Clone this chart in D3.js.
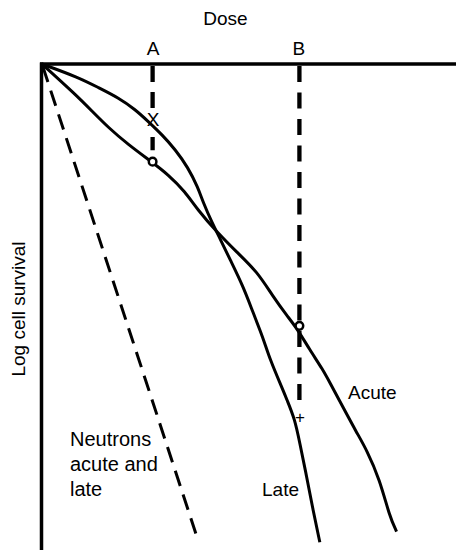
<!DOCTYPE html>
<html>
<head>
<meta charset="utf-8">
<script src="https://cdn.jsdelivr.net/npm/d3@7"></script>
<style>
body { margin: 0; background: white; }
text { font-family: "Liberation Sans", Arial, Helvetica, sans-serif; fill: black; }
.curve { fill: none; stroke: black; stroke-width: 3; }
</style>
</head>
<body>
<div id="chart"></div>
<script>

// dose (arbitrary units) vs log cell survival
var doseA = 3, doseB = 7;

var lateCurve = [
 [0,0],[0.99,-0.36],[1.54,-0.64],[2.08,-0.91],[2.54,-1.23],[2.89,-1.55],[3.27,-1.91],
 [3.63,-2.31],[3.98,-2.80],[4.25,-3.34],[4.39,-3.74],[4.63,-4.28],[4.86,-4.74],[5.12,-5.28],
 [5.48,-6.01],[5.75,-6.72],[6.02,-7.39],[6.21,-7.99],[6.56,-8.80],[6.67,-9.07],[6.89,-9.61],
 [7.02,-10.23],[7.21,-11.15],[7.38,-12.04],[7.57,-12.93]
];

var acuteCurve = [
 [0,0],[0.91,-0.82],[1.37,-1.28],[1.81,-1.72],[2.35,-2.18],[2.98,-2.64],[3.44,-2.99],
 [3.90,-3.45],[4.23,-3.93],[4.77,-4.55],[5.31,-5.09],[5.86,-5.61],[6.29,-6.28],[6.67,-6.80],
 [6.97,-7.18],[7.29,-7.72],[7.65,-8.26],[7.84,-8.61],[8.19,-9.26],[8.57,-9.96],[8.84,-10.42],
 [9.20,-11.23],[9.47,-12.23],[9.66,-12.64]
];

var neutronLine = [[0,0],[4.22,-12.78]];

// survival read at doses A and B
var acuteMarks = [[doseA,-2.64],[doseB,-7.08]];
var lateMarks = [{d:doseA, s:-1.5, t:"X"}, {d:doseB, s:-9.55, t:"+"}];
var guideEnds = [{d:doseA, s:-2.33, dash:"16,10,16,29,20"}, {d:doseB, s:-9.1, dash:"16,10.5"}];

var W = 456, H = 550;
var svg = d3.select("#chart").append("svg").attr("width", W).attr("height", H);

var x = d3.scaleLinear().domain([0, 11.28]).range([42, 456]);
var y = d3.scaleLinear().domain([0, -13.14]).range([64, 550]);

var line = d3.line().x(d=>x(d[0])).y(d=>y(d[1])).curve(d3.curveBasis);

// axes (top = dose, left = log survival)
svg.append("line").attr("x1", x(0)-2).attr("x2", W).attr("y1", y(0)).attr("y2", y(0))
	.attr("stroke","black").attr("stroke-width",3.5);
svg.append("line").attr("x1", x(0)-0.5).attr("x2", x(0)-0.5).attr("y1", y(0)-1.5).attr("y2", H)
	.attr("stroke","black").attr("stroke-width",3.5);

svg.append("text").attr("x",225.5).attr("y",25).attr("text-anchor","middle")
	.style("font-size","19px").text("Dose");
svg.append("text").attr("transform","translate(25,309) rotate(-90)").attr("text-anchor","middle")
	.style("font-size","19px").text("Log cell survival");

svg.append("text").attr("x",x(doseA)+1).attr("y",55).attr("text-anchor","middle")
	.style("font-size","19px").text("A");
svg.append("text").attr("x",x(doseB)).attr("y",55).attr("text-anchor","middle")
	.style("font-size","19px").text("B");

// dashed guides at A and B
svg.selectAll(".guide").data(guideEnds).enter().append("line").attr("class","guide")
	.attr("x1",d=>x(d.d)+0.5).attr("x2",d=>x(d.d)+0.5)
	.attr("y1",y(0)+2).attr("y2",d=>y(d.s))
	.attr("stroke","black").attr("stroke-width",4.3)
	.attr("stroke-dasharray",d=>d.dash);

// neutrons
svg.append("path").datum(neutronLine).attr("d", line)
	.attr("fill","none").attr("stroke","black").attr("stroke-width",3)
	.attr("stroke-dasharray","16,9").attr("stroke-dashoffset",-3);

svg.append("path").datum(lateCurve).attr("class","curve").attr("d", line);
svg.append("path").datum(acuteCurve).attr("class","curve").attr("d", line);

svg.selectAll(".amark").data(acuteMarks).enter().append("circle").attr("class","amark")
	.attr("cx",d=>x(d[0])+0.5).attr("cy",d=>y(d[1]))
	.attr("r",3.8).attr("fill","white").attr("stroke","black").attr("stroke-width",2.5);

svg.selectAll(".lmark").data(lateMarks).enter().append("text").attr("class","lmark")
	.attr("x",d=>x(d.d)+1).attr("y",d=>y(d.s)+ (d.t=="X"? 7: 6))
	.attr("text-anchor","middle")
	.style("font-size",d=>d.t=="X"? "19px": "17px").text(d=>d.t);

// curve labels
svg.append("text").attr("x",348).attr("y",399).style("font-size","19px").text("Acute");
svg.append("text").attr("x",262).attr("y",496).style("font-size","19px").text("Late");

var neutronLabel = ["Neutrons","acute and","late"];
svg.selectAll(".nlab").data(neutronLabel).enter().append("text").attr("class","nlab")
	.attr("x",70).attr("y",(d,i)=>446 + i*25)
	.style("font-size","20px").text(d=>d);

</script>
</body>
</html>
